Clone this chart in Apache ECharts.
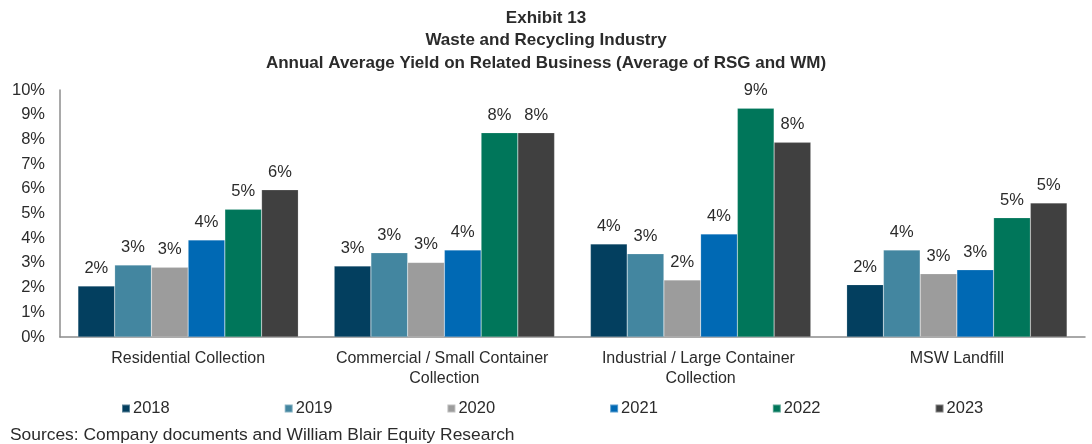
<!DOCTYPE html>
<html>
<head>
<meta charset="utf-8">
<script src="https://cdn.jsdelivr.net/npm/echarts@6/dist/echarts.min.js"></script>
<style>
  html, body { margin: 0; padding: 0; background: #ffffff; }
  #chart { width: 1092px; height: 444px; }
</style>
</head>
<body>
<div id="chart"></div>
<script>
// Business lines on the category axis
const categories = [
  'Residential Collection',
  'Commercial / Small Container Collection',
  'Industrial / Large Container Collection',
  'MSW Landfill'
];

// Years shown in the legend
const years = ['2018', '2019', '2020', '2021', '2022', '2023'];

// Annual average yield (%) per business line, one array per year
const y2018 = [2.06, 2.87, 3.77, 2.12];
const y2019 = [2.91, 3.41, 3.37, 3.52];
const y2020 = [2.82, 3.02, 2.31, 2.56];
const y2021 = [3.93, 3.52, 4.17, 2.72];
const y2022 = [5.17, 8.27, 9.26, 4.83];
const y2023 = [5.96, 8.27, 7.88, 5.43];

const yearValues = [y2018, y2019, y2020, y2021, y2022, y2023];
const colors = ['#033F5F', '#4386A0', '#9C9C9C', '#0069B4', '#00765A', '#404040'];

const textColor = '#2b2b2b';
const font = '"Liberation Sans", Arial, sans-serif';

const chart = echarts.init(document.getElementById('chart'), null, { renderer: 'canvas' });

chart.setOption({
  animation: false,
  backgroundColor: '#ffffff',
  textStyle: { fontFamily: font, color: textColor },
  title: {
    text: 'Exhibit 13\nWaste and Recycling Industry\nAnnual Average Yield on Related Business (Average of RSG and WM)',
    left: 'center',
    top: 2,
    textStyle: {
      fontFamily: font,
      fontSize: 17,
      fontWeight: 'bold',
      color: textColor,
      lineHeight: 22.5
    }
  },
  legend: {
    data: years,
    left: 116,
    top: 395,
    icon: 'rect',
    itemWidth: 8,
    itemHeight: 8,
    itemGap: 114,
    textStyle: { fontFamily: font, fontSize: 16.5, color: textColor, padding: [0, 0, 0, -2] }
  },
  grid: { left: 60, right: 7, top: 90, bottom: 107, containLabel: false },
  xAxis: {
    type: 'category',
    data: categories,
    axisLine: { show: true, lineStyle: { color: '#8c8c8c', width: 1.5 } },
    axisTick: { show: false },
    axisLabel: {
      interval: 0,
      margin: 12,
      fontFamily: font,
      fontSize: 16,
      color: textColor,
      lineHeight: 20,
      width: 245,
      overflow: 'break'
    }
  },
  yAxis: {
    type: 'value',
    min: 0,
    max: 10,
    interval: 1,
    axisLine: { show: true, lineStyle: { color: '#8c8c8c', width: 1.5 } },
    axisTick: { show: false },
    splitLine: { show: false },
    axisLabel: {
      margin: 15,
      fontFamily: font,
      fontSize: 16.5,
      color: textColor,
      formatter: v => v + '%'
    }
  },
  series: years.map((yr, i) => ({
    name: yr,
    type: 'bar',
    data: yearValues[i],
    barGap: '0%',
    barCategoryGap: '14%',
    itemStyle: { color: colors[i], borderColor: 'rgba(255,255,255,0.35)', borderWidth: 0.5 },
    label: {
      show: true,
      position: 'top',
      distance: 9,
      fontFamily: font,
      fontSize: 16.5,
      color: textColor,
      formatter: p => Math.round(p.value) + '%'
    }
  })),
  graphic: [{
    type: 'text',
    left: 10,
    top: 427,
    style: {
      text: 'Sources: Company documents and William Blair Equity Research',
      fontFamily: font,
      fontSize: 17.4,
      fill: textColor
    }
  }]
});
</script>
</body>
</html>
